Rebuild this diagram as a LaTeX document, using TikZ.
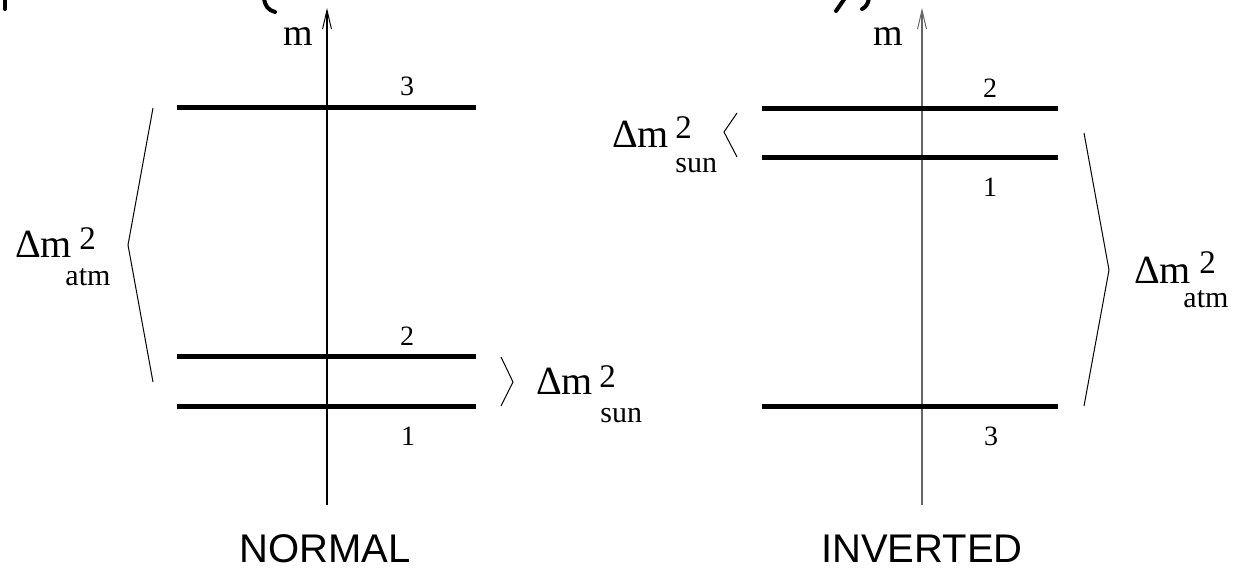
\documentclass[tikz,border=0pt]{standalone}
\usepackage{fontspec}
\setmainfont{Liberation Serif}
\newfontfamily\labsans{Liberation Sans}
\usetikzlibrary{arrows.meta}
\newcommand\mysupf{\fontsize{33}{33}\selectfont}
\newcommand\mysubf{\fontsize{30}{30}\selectfont}
% #1 sup shift, #2 sup raise, #3 sub shift, #4 sub lower, #5 sub text
\newcommand\dml[5]{Δm\rlap{\hspace{#1pt}\raisebox{#2pt}{\mysupf 2}}\hspace{#3pt}\raisebox{-#4pt}{\mysubf #5}}
\tikzset{
  level/.style={line width=5pt},
  axisline/.style={line width=1.1pt,-{Straight Barb[length=19pt,width=9pt,line width=1pt]}},
  brk/.style={line width=1pt},
  big/.style={inner sep=0pt,font=\fontsize{40}{40}\selectfont},
  axm/.style={inner sep=0pt,font=\fontsize{38}{38}\selectfont},
  num/.style={inner sep=0pt,font=\fontsize{28}{28}\selectfont},
  title/.style={inner sep=0pt,font=\labsans\fontsize{40}{40}\selectfont},
  frag/.style={line width=4pt,line cap=round}
}
\begin{document}
\begin{tikzpicture}[x=1pt,y=-1pt]
\useasboundingbox (0,0) rectangle (1238,570);
% cropped fragments at the top edge
\draw[frag] (5,-2) -- (5,9);
\draw[frag] (264,-2) .. controls (265,6) and (268,10) .. (275,12);
\draw[frag] (845,-2) -- (836,11);
\draw[frag] (869,-2) .. controls (868,4) and (866,7) .. (862,9);

% ---------- NORMAL ----------
\coordinate (La0) at (327,505);
\coordinate (La1) at (327,8);
\draw[axisline] (La0) -- (La1);
\node[axm,anchor=base west] (Lm) at (283,45) {m};

\coordinate (L3a) at (177,107); \coordinate (L3b) at (476,107);
\coordinate (L2a) at (177,356); \coordinate (L2b) at (476,356);
\coordinate (L1a) at (177,406); \coordinate (L1b) at (476,406);
\draw[level] (L3a) -- (L3b);
\draw[level] (L2a) -- (L2b);
\draw[level] (L1a) -- (L1b);
\node[num,anchor=base] (Ln3) at (407,95) {3};
\node[num,anchor=base] (Ln2) at (407,345) {2};
\node[num,anchor=base] (Ln1) at (408,445) {1};

\coordinate (Lat) at (153,108); \coordinate (Lam) at (128,245); \coordinate (Lab) at (153,382);
\draw[brk] (Lat) -- (Lam) -- (Lab);
\node[big,anchor=base west] (Latm) at (15,257) {\dml{7.4}{8}{-6.6}{28}{atm}};

\coordinate (Lst) at (501,357); \coordinate (Lsm) at (513,382); \coordinate (Lsb) at (501,406);
\draw[brk] (Lst) -- (Lsm) -- (Lsb);
\node[big,anchor=base west] (Lsun) at (536,394) {\dml{6.4}{7}{7.4}{28}{sun}};

\node[title,anchor=base] (Ltitle) at (325,562) {NORMAL};

% ---------- INVERTED ----------
\coordinate (Ra0) at (922,505);
\coordinate (Ra1) at (922,8);
\draw[axisline,draw=black!60] (Ra0) -- (Ra1);
\node[axm,anchor=base west] (Rm) at (873,45) {m};

\coordinate (R2a) at (762,108); \coordinate (R2b) at (1058,108);
\coordinate (R1a) at (762,157); \coordinate (R1b) at (1058,157);
\coordinate (R3a) at (762,406); \coordinate (R3b) at (1058,406);
\draw[level] (R2a) -- (R2b);
\draw[level] (R1a) -- (R1b);
\draw[level] (R3a) -- (R3b);
\node[num,anchor=base] (Rn2) at (990,97) {2};
\node[num,anchor=base] (Rn1) at (990,196) {1};
\node[num,anchor=base] (Rn3) at (991,445) {3};

\coordinate (Rst) at (737,113); \coordinate (Rsm) at (724,132); \coordinate (Rsb) at (737,157);
\draw[brk] (Rst) -- (Rsm) -- (Rsb);
\node[big,anchor=base west] (Rsun) at (612,147) {\dml{6.4}{9}{6.4}{25}{sun}};

\coordinate (Rat) at (1084,133); \coordinate (Ram) at (1109,270); \coordinate (Rab) at (1084,406);
\draw[brk] (Rat) -- (Ram) -- (Rab);
\node[big,anchor=base west] (Ratm) at (1134,283) {\dml{8.4}{10}{-7.6}{24}{atm}};

\node[title,anchor=base] (Rtitle) at (922,562) {INVERTED};
\end{tikzpicture}
\end{document}
